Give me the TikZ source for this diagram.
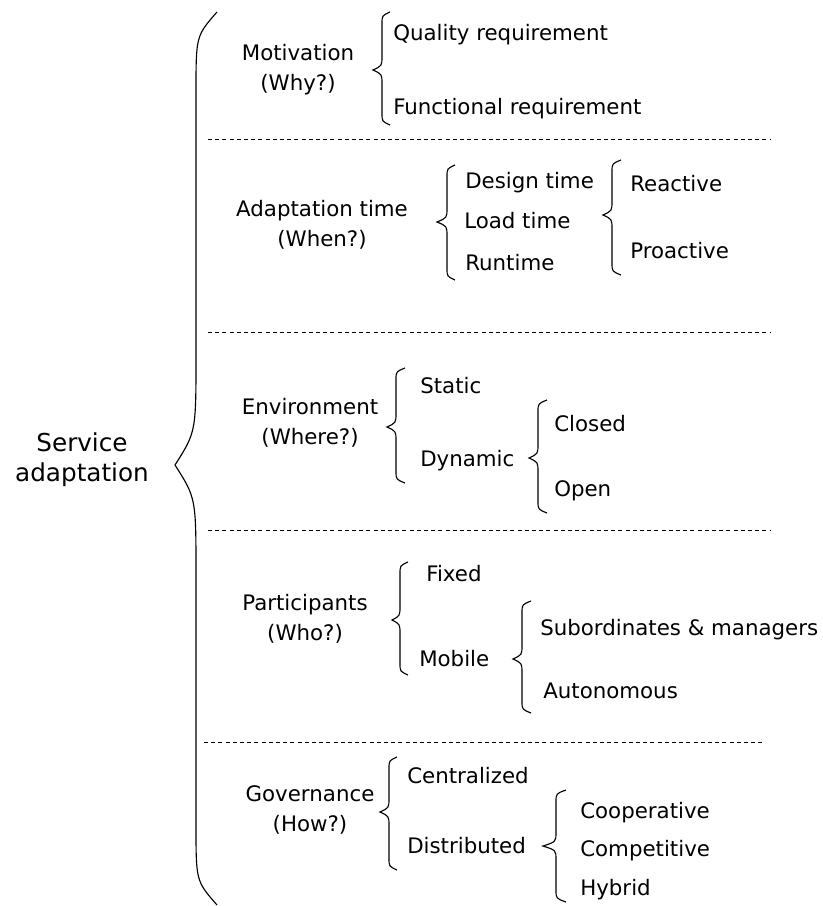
\documentclass[tikz,border=0pt]{standalone}
\usepackage{fontspec}
\setmainfont{DejaVu Sans}
\newcommand\txtsz{\fontsize{16}{22.5}\selectfont}
\newcommand\bigsz{\fontsize{18.5}{22.5}\selectfont}
% #1 xtip #2 ytip #3 xv #4 xe #5 ytop #6 ybot #7 r #8 r2
\newcommand\mybrace[8]{%
  \draw[brc] (#4,#5) .. controls (#3,{#5+0.3*#7}) .. (#3,{#5+#7})
    -- (#3,{#2-#8}) .. controls (#3,{#2-0.3*#8}) .. (#1,#2)
    .. controls (#3,{#2+0.3*#8}) .. (#3,{#2+#8})
    -- (#3,{#6-#7}) .. controls (#3,{#6-0.3*#7}) .. (#4,#6);}
\begin{document}
\begin{tikzpicture}[x=0.75pt,y=-0.75pt,
  lbl/.style={anchor=base west,inner sep=0pt,font=\txtsz},
  cat/.style={align=center,inner sep=0pt,font=\txtsz},
  brc/.style={line width=0.85pt},
  sep/.style={dash pattern=on 3pt off 2.4pt,line width=0.7pt}]
\useasboundingbox (0,0) rectangle (822,906);

% root
\node[font=\bigsz,align=center,inner sep=0pt] (root) at (82,460) {Service\\adaptation};
\mybrace{175}{465}{196}{217}{12}{905}{80}{110}

% separators
\coordinate (s1a) at (208,139); \coordinate (s1b) at (770,139);
\coordinate (s2a) at (208,332); \coordinate (s2b) at (770,332);
\coordinate (s3a) at (208,530); \coordinate (s3b) at (770,530);
\coordinate (s4a) at (204,742); \coordinate (s4b) at (765,742);
\draw[sep] (s1a) -- (s1b);
\draw[sep] (s2a) -- (s2b);
\draw[sep] (s3a) -- (s3b);
\draw[sep] (s4a) -- (s4b);

% Motivation
\node[cat] (mot) at (298,70) {Motivation\\(Why?)};
\mybrace{373}{70}{382}{390}{12}{125}{12}{14}
\node[lbl] (qr) at (393,41) {Quality requirement};
\node[lbl] (fr) at (393,114) {Functional requirement};

% Adaptation time
\node[cat] (at) at (322,225) {Adaptation time\\(When?)};
\mybrace{437}{222}{447}{455}{165}{280}{12}{14}
\node[lbl] (dt) at (465,188) {Design time};
\node[lbl] (lt) at (464,228) {Load time};
\node[lbl] (rt) at (465,270) {Runtime};
\mybrace{603}{215}{612}{621}{160}{275}{12}{14}
\node[lbl] (re) at (630,191) {Reactive};
\node[lbl] (pr) at (630,258) {Proactive};

% Environment
\node[cat] (env) at (310,423) {Environment\\(Where?)};
\mybrace{387}{427}{396}{405}{368}{483}{12}{14}
\node[lbl] (st) at (420,393) {Static};
\node[lbl] (dy) at (420,466) {Dynamic};
\mybrace{529}{458}{538}{547}{400}{513}{12}{14}
\node[lbl] (cl) at (554,431) {Closed};
\node[lbl] (op) at (554,496) {Open};

% Participants
\node[cat] (par) at (305,619) {Participants\\(Who?)};
\mybrace{392}{620}{400}{408}{562}{675}{12}{14}
\node[lbl] (fx) at (426,581) {Fixed};
\node[lbl] (mo) at (419,666) {Mobile};
\mybrace{513}{659}{522}{531}{601}{713}{12}{14}
\node[lbl] (sm) at (540,635) {Subordinates \& managers};
\node[lbl] (au) at (543,698) {Autonomous};

% Governance
\node[cat] (gov) at (310,810) {Governance\\(How?)};
\mybrace{380}{812}{389}{397}{757}{870}{12}{14}
\node[lbl] (ce) at (407,783) {Centralized};
\node[lbl] (di) at (407,853) {Distributed};
\mybrace{543}{846}{556}{566}{790}{902}{12}{14}
\node[lbl] (co) at (580,818) {Cooperative};
\node[lbl] (cm) at (580,856) {Competitive};
\node[lbl] (hy) at (580,895) {Hybrid};
\end{tikzpicture}
\end{document}
